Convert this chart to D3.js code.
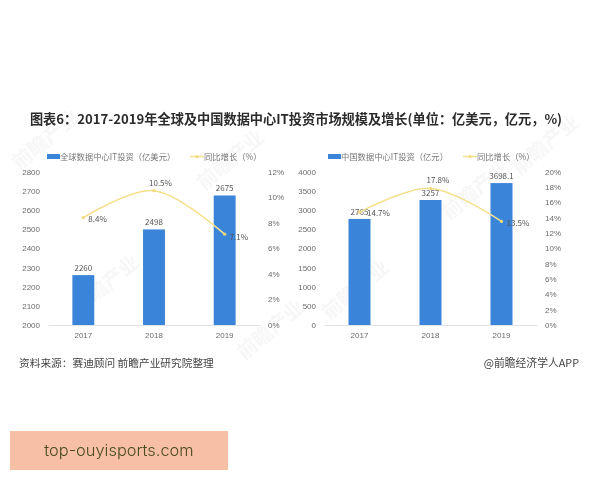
<!DOCTYPE html>
<html>
<head>
<meta charset="utf-8">
<script src="https://cdn.jsdelivr.net/npm/d3@7"></script>
<style>
    html, body { margin: 0; padding: 0; background: #fff; }
    svg { display: block; font-family: "Noto Sans CJK SC", "Noto Sans", sans-serif; filter: blur(0.35px); }
    .tick-label { font-size: 8px; fill: #6b6b6b; }
    .value-label { font-size: 8px; fill: #555; }
    .legend-label { font-size: 8.3px; fill: #777; }
</style>
</head>
<body>
<div id="chart"></div>
<script>
const years = ["2017", "2018", "2019"];

const globalValues = [2260, 2498, 2675];
const globalValueLabels = ["2260", "2498", "2675"];
const globalGrowth = [8.4, 10.5, 7.1];
const globalTicks = [2000, 2100, 2200, 2300, 2400, 2500, 2600, 2700, 2800];
const globalGrowthTicks = [0, 2, 4, 6, 8, 10, 12];

const chinaValues = [2765, 3257, 3698.1];
const chinaValueLabels = ["2765", "3257", "3698.1"];
const chinaGrowth = [14.7, 17.8, 13.5];
const chinaTicks = [0, 500, 1000, 1500, 2000, 2500, 3000, 3500, 4000];
const chinaGrowthTicks = [0, 2, 4, 6, 8, 10, 12, 14, 16, 18, 20];

const titleText = "图表6：2017-2019年全球及中国数据中心IT投资市场规模及增长(单位：亿美元，亿元，%)";
const sourceText = "资料来源：赛迪顾问 前瞻产业研究院整理";
const brandText = "@前瞻经济学人APP";
const bannerText = "top-ouyisports.com";

const svg = d3.select("#chart").append("svg")
    .attr("width", 600)
    .attr("height", 480);

// faint watermarks behind the charts
const marks = [[50, 145], [110, 290], [235, 165], [360, 295], [480, 195], [550, 150], [275, 335]];
svg.append("g").selectAll("text")
    .data(marks)
    .enter().append("text")
    .attr("transform", d => `translate(${d[0]},${d[1]}) rotate(-40)`)
    .attr("text-anchor", "middle")
    .style("font-size", "20px")
    .style("font-weight", "bold")
    .style("fill", "#f7f7f8")
    .text("前瞻产业");

svg.append("text")
    .attr("x", 296)
    .attr("y", 124)
    .attr("text-anchor", "middle")
    .style("font-size", "13.2px")
    .style("font-weight", "bold")
    .style("fill", "#2b2b2b")
    .text(titleText);

function drawPanel(cfg) {
    const x = d3.scaleBand()
        .domain(years)
        .range([cfg.left, cfg.right])
        .paddingInner(0.69)
        .paddingOuter(0.345);

    const y = d3.scaleLinear()
        .domain(d3.extent(cfg.ticks))
        .range([325, 171.5]);

    const yGrowth = d3.scaleLinear()
        .domain(d3.extent(cfg.growthTicks))
        .range([325, 171.5]);

    const g = svg.append("g");

    // Left axis
    const leftAxis = g.append("g")
        .attr("transform", `translate(${cfg.left - 8},0)`)
        .call(d3.axisLeft(y).tickValues(cfg.ticks).tickSize(0).tickPadding(0).tickFormat(d3.format("d")));
    leftAxis.select(".domain").remove();
    leftAxis.selectAll("text").attr("class", "tick-label");

    // Right axis
    const rightAxis = g.append("g")
        .attr("transform", `translate(${cfg.right + 8},0)`)
        .call(d3.axisRight(yGrowth).tickValues(cfg.growthTicks).tickSize(0).tickPadding(0).tickFormat(d => d + "%"));
    rightAxis.select(".domain").remove();
    rightAxis.selectAll("text").attr("class", "tick-label");

    // Bars
    g.selectAll(".bar")
        .data(cfg.values)
        .enter().append("rect")
        .attr("class", "bar")
        .attr("x", (d, i) => x(years[i]))
        .attr("y", d => y(d))
        .attr("width", x.bandwidth())
        .attr("height", d => 325 - y(d))
        .attr("fill", "#3a84d9");

    // Category axis
    const bottomAxis = g.append("g")
        .attr("transform", "translate(0,325)")
        .call(d3.axisBottom(x).tickSize(0).tickPadding(7));
    bottomAxis.select(".domain").attr("stroke", "#dfe3e8");
    bottomAxis.selectAll("text").attr("class", "tick-label");

    // Bar labels
    g.selectAll(".bar-label")
        .data(cfg.values)
        .enter().append("text")
        .attr("class", "value-label bar-label")
        .attr("x", (d, i) => x(years[i]) + x.bandwidth() / 2)
        .attr("y", d => y(d) - 4)
        .attr("text-anchor", "middle")
        .text((d, i) => cfg.valueLabels[i]);

    // Growth line
    const line = d3.line()
        .x((d, i) => x(years[i]) + x.bandwidth() / 2)
        .y(d => yGrowth(d))
        .curve(d3.curveCatmullRom.alpha(0.5));

    g.append("path")
        .datum(cfg.growth)
        .attr("d", line)
        .attr("fill", "none")
        .attr("stroke", "#f5e08e")
        .attr("stroke-width", 1.5);

    g.selectAll(".dot")
        .data(cfg.growth)
        .enter().append("circle")
        .attr("class", "dot")
        .attr("cx", (d, i) => x(years[i]) + x.bandwidth() / 2)
        .attr("cy", d => yGrowth(d))
        .attr("r", 1.6)
        .attr("fill", "#f2d97c");

    g.selectAll(".growth-label")
        .data(cfg.growth)
        .enter().append("text")
        .attr("class", "value-label growth-label")
        .attr("x", (d, i) => x(years[i]) + x.bandwidth() / 2 + cfg.growthOffsets[i][0])
        .attr("y", (d, i) => yGrowth(d) + cfg.growthOffsets[i][1])
        .attr("text-anchor", "start")
        .text(d => d.toFixed(1) + "%");

    // Legend
    g.append("rect")
        .attr("x", cfg.legendX)
        .attr("y", 154)
        .attr("width", 13)
        .attr("height", 5)
        .attr("fill", "#3a84d9");
    g.append("text")
        .attr("class", "legend-label")
        .attr("x", cfg.legendX + 13)
        .attr("y", 159.5)
        .text(cfg.barName);
    g.append("line")
        .attr("x1", cfg.lineX)
        .attr("x2", cfg.lineX + 14)
        .attr("y1", 156.5)
        .attr("y2", 156.5)
        .attr("stroke", "#f5e08e")
        .attr("stroke-width", 1.5);
    g.append("circle")
        .attr("cx", cfg.lineX + 7)
        .attr("cy", 156.5)
        .attr("r", 1.5)
        .attr("fill", "#f2d97c");
    g.append("text")
        .attr("class", "legend-label")
        .attr("x", cfg.lineX + 14)
        .attr("y", 159.5)
        .text("同比增长（%）");
}

drawPanel({
    left: 48, right: 260,
    values: globalValues, valueLabels: globalValueLabels, growth: globalGrowth,
    ticks: globalTicks, growthTicks: globalGrowthTicks,
    growthOffsets: [[5, 4], [-5, -5], [5, 6]],
    legendX: 47, lineX: 190,
    barName: "全球数据中心IT投资（亿美元）"
});

drawPanel({
    left: 324, right: 537,
    values: chinaValues, valueLabels: chinaValueLabels, growth: chinaGrowth,
    ticks: chinaTicks, growthTicks: chinaGrowthTicks,
    growthOffsets: [[7.5, 4], [-4, -5], [5, 5]],
    legendX: 328, lineX: 463,
    barName: "中国数据中心IT投资（亿元）"
});

svg.append("text")
    .attr("x", 19)
    .attr("y", 367)
    .style("font-size", "10.7px")
    .style("fill", "#444")
    .text(sourceText);

svg.append("text")
    .attr("x", 579)
    .attr("y", 367)
    .attr("text-anchor", "end")
    .style("font-size", "10.8px")
    .style("fill", "#444")
    .text(brandText);

svg.append("rect")
    .attr("x", 10)
    .attr("y", 431)
    .attr("width", 218)
    .attr("height", 39)
    .attr("fill", "#f7c0a5");

svg.append("text")
    .attr("x", 119)
    .attr("y", 456)
    .attr("text-anchor", "middle")
    .style("font-family", "Inter, Roboto, sans-serif")
    .style("font-size", "16.4px")
    .style("font-weight", "300")
    .style("fill", "#4a4a1e")
    .text(bannerText);
</script>
</body>
</html>
